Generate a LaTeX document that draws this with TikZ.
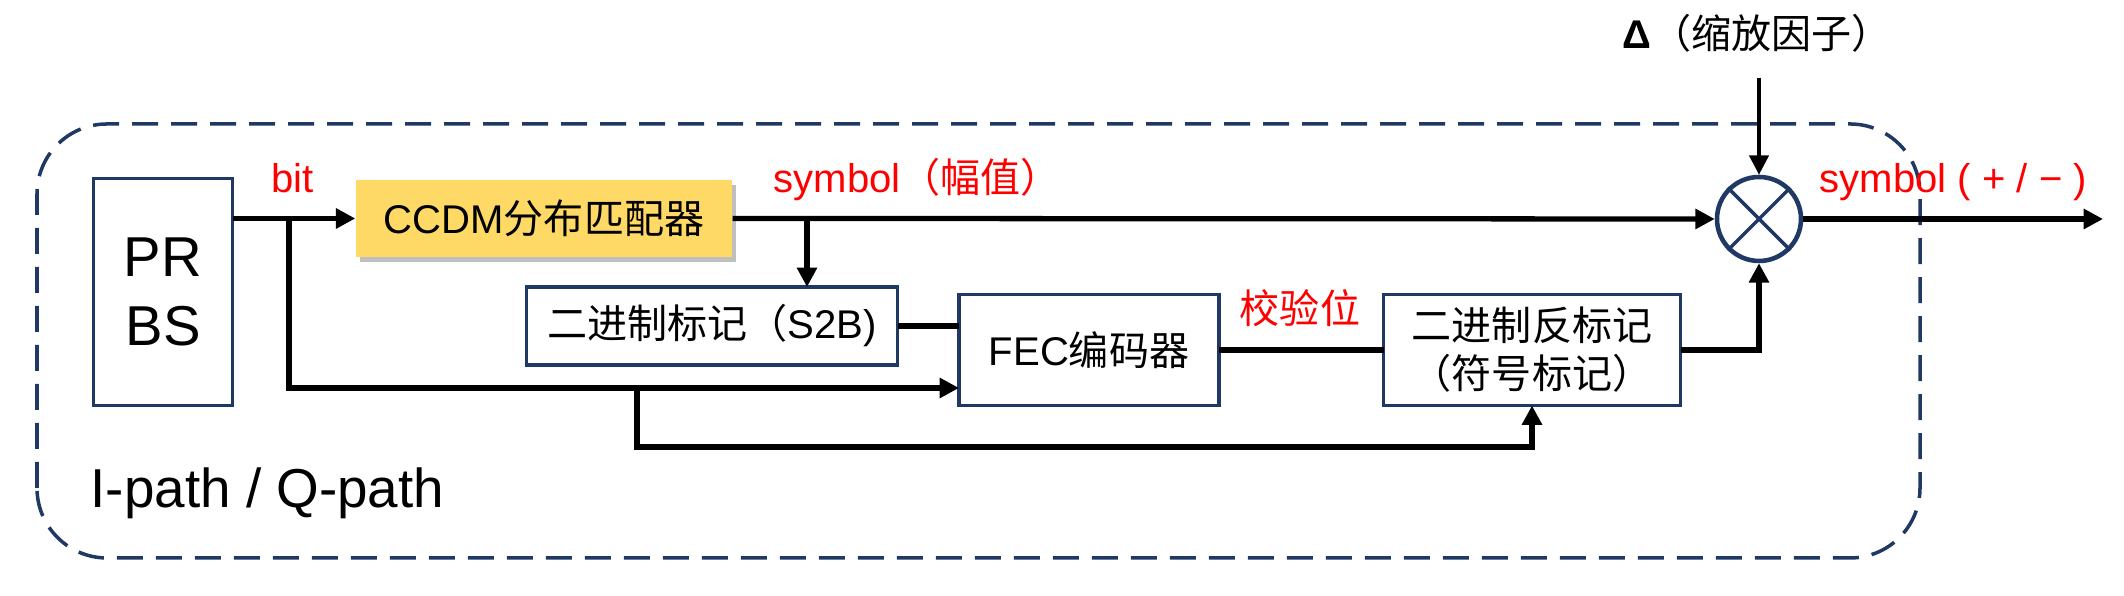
\documentclass[tikz,border=0pt]{standalone}
\usepackage{fontspec}
\setmainfont{Liberation Sans}
\newfontfamily\cjk{Noto Sans CJK SC}
\usetikzlibrary{
  arrows.meta,
  calc,
  positioning,
  shadows,
}
\definecolor{navy}{HTML}{203864}
\definecolor{ccdmyellow}{HTML}{FFD966}
\newcommand{\fs}{\fontsize{11.4pt}{13.6pt}\selectfont}
\tikzset{
  >={Triangle[length=5.5pt,width=5.5pt]},
  n/.style 2 args={
    draw=navy, line width=1pt, minimum width=#1, minimum height=#2,
    inner sep=0pt, outer sep=0pt, font=\fs, align=center,
  },
  lbl/.style={text=red, font=\fs, inner sep=0pt},
  wire/.style={line width=1.5pt},
  pathbox/.style={
    draw=navy, line width=1pt, rounded corners=0.7cm,
    dash pattern=on 0.26cm off 0.13cm,
  },
}

\begin{document}
\begin{tikzpicture}
  \useasboundingbox (0,0) rectangle (21.24,5.96);
  \draw[pathbox] (0.37,0.38) rectangle (19.20,4.72);
  \node[font=\fontsize{15.6pt}{18pt}\selectfont, anchor=base west, inner sep=0pt]
    (iq) at (0.90,0.88) {I-path / Q-path};
  %%
  \node[n={1.39cm}{2.27cm}, font=\fontsize{16pt}{19.6pt}\selectfont](prbs)
    at (1.63,3.04) {PR\\BS};
  \node[fill=ccdmyellow, minimum width=3.76cm, minimum height=0.77cm,
    inner sep=0pt, font=\fs,
    drop shadow={shadow xshift=0.04cm, shadow yshift=-0.05cm, fill=black, opacity=0.25}]
    (ccdm) at (5.44,3.775) {CCDM{\cjk 分布匹配器}};
  \node[n={3.71cm}{0.78cm}](s2b) at (7.12,2.70) {{\cjk 二进制标记（}S2B)};
  \node[n={2.60cm}{1.11cm}](fec) at (10.89,2.46) {FEC{\cjk 编码器}};
  \node[n={2.97cm}{1.11cm}, font=\cjk\fs](inv) at (15.32,2.46)
    {二进制反标记\\（符号标记）};
  \node[circle, draw=navy, line width=1.3pt, minimum size=0.84cm, inner sep=0pt]
    (mult) at (17.59,3.77) {};
  \draw[navy, line width=1pt] (mult.45) -- (mult.225) (mult.135) -- (mult.-45);
  %%
  \node[font=\fs, anchor=base, inner sep=0pt](delta) at (17.57,5.47)
    {\textbf{Δ}{\cjk （缩放因子）}};
  \node[lbl, anchor=base west](bit) at (2.71,4.03) {bit};
  \node[lbl, anchor=base west](amp) at (7.73,4.03) {symbol{\cjk （幅值）}};
  \node[lbl, anchor=base west](sgn) at (18.19,4.03) {symbol ( + / − )};
  \node[lbl, font=\cjk\fs](par) at (13.00,2.88) {校验位};
  %%
  \coordinate (bsplit) at (2.89,3.77);
  \coordinate (blow) at (2.89,2.08);
  \coordinate (bsplit2) at (6.37,2.08);
  \coordinate (ssplit) at (8.07,3.77);
  \coordinate (dtop) at (17.59,5.18);
  \coordinate (out) at (21.03,3.77);
  \begin{scope}[wire]
    \draw[->](prbs.east |- ccdm.west) -- (ccdm.west);
    \draw[->](bsplit) -- (blow) -- (blow -| fec.west);
    \draw[->](bsplit2) -- ++(0,-0.59) -| (inv.south);
    \draw[->](ssplit) -- (ssplit |- s2b.north);
    \draw(s2b.east) -- (s2b.east -| fec.west);
    \draw(fec.east) -- (inv.west);
    \draw[->](inv.east) -| (mult.south);
    \draw[->](ccdm.east) -- (mult.west);
    \draw[->](mult.east) -- (out);
  \end{scope}
  \draw[->, line width=1pt](dtop) -- (mult.north);
\end{tikzpicture}
\end{document}
